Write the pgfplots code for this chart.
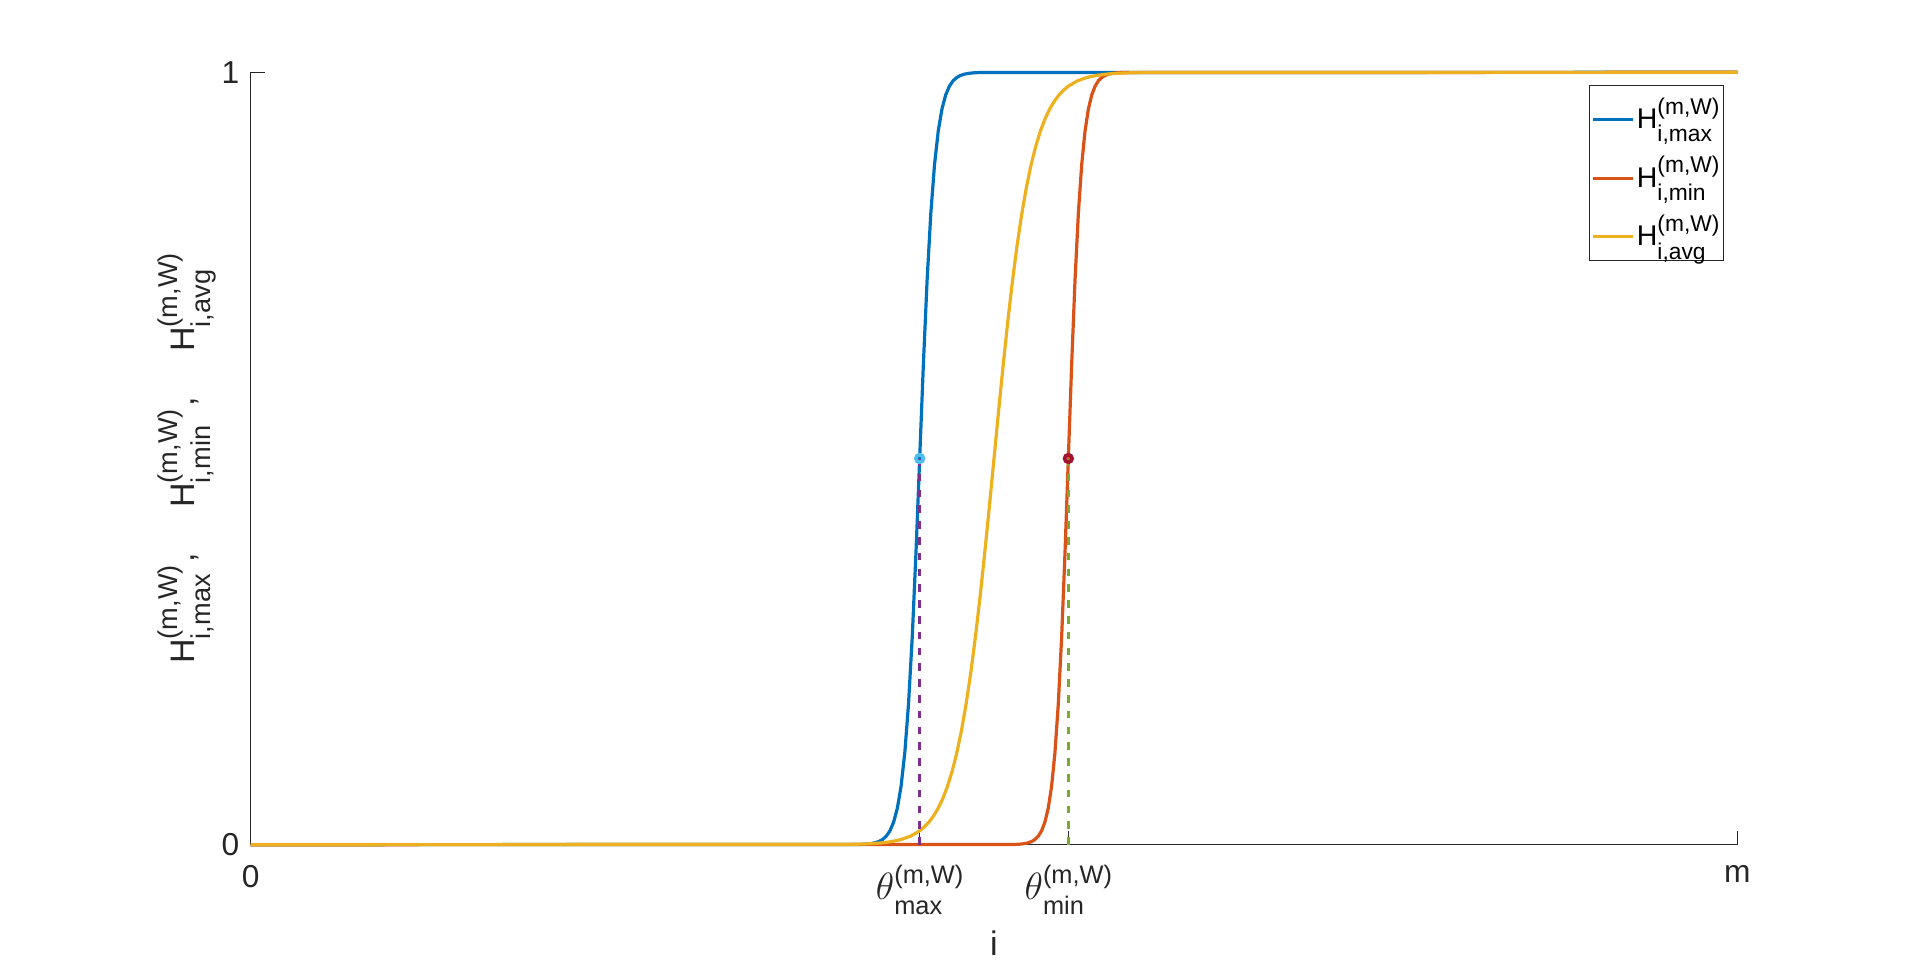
\documentclass[border=0pt]{standalone}
\usepackage{amsmath}
\usepackage{graphicx}
\usepackage{fontspec}
\setmainfont{Liberation Sans}
\usepackage{pgfplots}
\pgfplotsset{compat=1.18}
\definecolor{mblue}{rgb}{0,0.447,0.741}
\definecolor{mred}{rgb}{0.85,0.325,0.098}
\definecolor{myellow}{rgb}{0.929,0.694,0.125}
\definecolor{mpurple}{rgb}{0.494,0.184,0.556}
\definecolor{mgreen}{rgb}{0.466,0.674,0.188}
\definecolor{mlightblue}{rgb}{0.301,0.745,0.933}
\definecolor{mdarkred}{rgb}{0.635,0.078,0.184}
\definecolor{axgray}{rgb}{0.15,0.15,0.15}
\newcommand{\ticksize}{\fontsize{15.85}{19}\selectfont}
\newcommand{\labsize}{\fontsize{17}{21}\selectfont}
\newcommand{\legsize}{\fontsize{14.25}{17}\selectfont}
% superscript #1 and subscript #2, stacked, at 0.8 of the current size
\newcommand{\supsub}[2]{\rlap{\raisebox{-0.46em}{\scalebox{0.8}{#2}}}\raisebox{0.52em}{\scalebox{0.8}{#1}}}
\newcommand{\Hsym}[1]{H\supsub{(m,W)}{#1}}
\newcommand{\thsym}[1]{\scalebox{1.1}{\fontsize{17.28}{20}\selectfont$\theta$}\supsub{(m,W)}{#1}}
\begin{document}
\begin{tikzpicture}
\begin{axis}[
  scale only axis, width=743.3pt, height=386.2pt,
  xmin=0, xmax=1, ymin=0, ymax=1,
  axis x line=bottom, axis y line=left,
  axis line style={-, draw=axgray, line width=0.5pt},
  xtick={0,0.45,0.55,1},
  xticklabels={{0},{\thsym{max}},{\thsym{min}},{m}},
  ytick={0,1}, yticklabels={{0},{1}},
  tick align=inside, major tick length=7pt,
  tick style={draw=axgray, line width=0.5pt},
  ticklabel style={font=\ticksize, text=axgray},
  xticklabel style={inner sep=0pt, yshift=-10pt},
  yticklabel style={inner sep=0pt, xshift=-5.5pt},
  clip=false,
  xlabel={i},
  xlabel style={at={(axis description cs:0.5,-0.144)}, anchor=base, font=\labsize, text=axgray},
  ylabel={\Hsym{i,max}\hspace{1.5pt},\hspace{22.5pt}\Hsym{i,min}\hspace{1.5pt},\hspace{22.5pt}\Hsym{i,avg}},
  ylabel style={at={(axis description cs:-0.03747,0.5)}, anchor=base, font=\labsize, text=axgray},
  legend cell align=left,
  legend style={at={(0.99105,0.98356)}, anchor=north east, draw=axgray, line width=0.5pt,
    font=\legsize, inner xsep=1pt, inner ysep=5pt, row sep=10.1pt,
    nodes={inner sep=1pt}},
  legend image code/.code={\draw[#1] (0pt,-2.5pt) -- (20pt,-2.5pt);},
]
\addplot[mblue, line width=1.6pt] coordinates {
(0,0) (0.41,0.000335) (0.4125,0.000553) (0.415,0.000911) (0.4175,0.001501) (0.42,0.002473) (0.4225,0.004070) (0.425,0.006693) (0.4275,0.010987) (0.43,0.017986) (0.4325,0.029312) (0.435,0.047426) (0.4375,0.075858) (0.44,0.119203) (0.4425,0.182426) (0.445,0.268941) (0.4475,0.377541) (0.45,0.5) (0.4525,0.622459) (0.455,0.731059) (0.4575,0.817574) (0.46,0.880797) (0.4625,0.924142) (0.465,0.952574) (0.4675,0.970688) (0.47,0.982014) (0.4725,0.989013) (0.475,0.993307) (0.4775,0.995930) (0.48,0.997527) (0.4825,0.998499) (0.485,0.999089) (0.4875,0.999447) (0.49,0.999665) (1,1)};
\addlegendentry{\Hsym{i,max}}
\addplot[mred, line width=1.6pt] coordinates {
(0,0) (0.514,0.000335) (0.51625,0.000553) (0.5185,0.000911) (0.52075,0.001501) (0.523,0.002473) (0.52525,0.004070) (0.5275,0.006693) (0.52975,0.010987) (0.532,0.017986) (0.53425,0.029312) (0.5365,0.047426) (0.53875,0.075858) (0.541,0.119203) (0.54325,0.182426) (0.5455,0.268941) (0.54775,0.377541) (0.55,0.5) (0.55225,0.622459) (0.5545,0.731059) (0.55675,0.817574) (0.559,0.880797) (0.56125,0.924142) (0.5635,0.952574) (0.56575,0.970688) (0.568,0.982014) (0.57025,0.989013) (0.5725,0.993307) (0.57475,0.995930) (0.577,0.997527) (0.57925,0.998499) (0.5815,0.999089) (0.58375,0.999447) (0.586,0.999665) (1,1)};
\addlegendentry{\Hsym{i,min}}
\addplot[myellow, line width=1.6pt] coordinates {
(0,0) (0.4,0.000335) (0.40625,0.000553) (0.4125,0.000911) (0.41875,0.001501) (0.425,0.002473) (0.43125,0.004070) (0.4375,0.006693) (0.44375,0.010987) (0.45,0.017986) (0.453125,0.02298) (0.45625,0.029312) (0.459375,0.03733) (0.4625,0.047426) (0.465625,0.06009) (0.46875,0.075858) (0.471875,0.09535) (0.475,0.119203) (0.478125,0.14805) (0.48125,0.182426) (0.484375,0.22270) (0.4875,0.268941) (0.490625,0.32082) (0.49375,0.377541) (0.496875,0.43782) (0.5,0.5) (0.503125,0.56218) (0.50625,0.622459) (0.509375,0.67918) (0.5125,0.731059) (0.515625,0.77730) (0.51875,0.817574) (0.521875,0.85195) (0.525,0.880797) (0.528125,0.90465) (0.53125,0.924142) (0.534375,0.93991) (0.5375,0.952574) (0.540625,0.96267) (0.54375,0.970688) (0.546875,0.97702) (0.55,0.982014) (0.55625,0.989013) (0.5625,0.993307) (0.56875,0.995930) (0.575,0.997527) (0.58125,0.998499) (0.5875,0.999089) (0.59375,0.999447) (0.6,0.999665) (1,1)};
\addlegendentry{\Hsym{i,avg}}
\addplot[forget plot, mpurple, line width=1.2pt, dash pattern=on 3.8pt off 4.1pt] coordinates {(0.45,0) (0.45,0.5)};
\addplot[forget plot, mgreen, line width=1.2pt, dash pattern=on 3.8pt off 4.1pt] coordinates {(0.55,0) (0.55,0.5)};
\addplot[forget plot, only marks, mark=o, mark size=1.9pt, mark options={draw=mlightblue, line width=1.8pt, fill=none}] coordinates {(0.45,0.5)};
\addplot[forget plot, only marks, mark=o, mark size=1.9pt, mark options={draw=mdarkred, line width=1.8pt, fill=none}] coordinates {(0.55,0.5)};
\path (rel axis cs:-0.16864,-0.15316) rectangle (rel axis cs:1.1229,1.0936);
\end{axis}
\end{tikzpicture}
\end{document}
